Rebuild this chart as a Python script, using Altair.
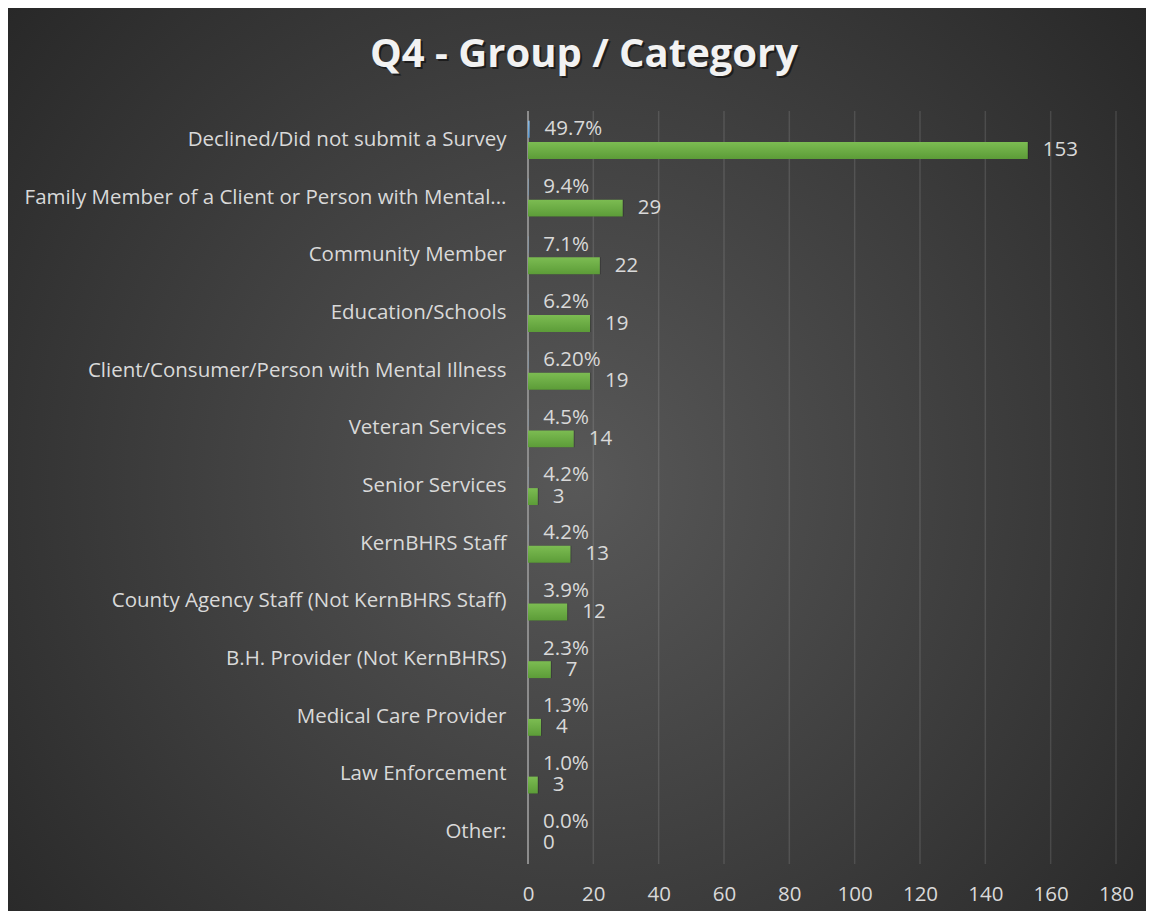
import altair as alt
import pandas as pd

title_text = "Q4 - Group / Category"
categories = [
    "Declined/Did not submit a Survey",
    "Family Member of a Client or Person with Mental...",
    "Community Member",
    "Education/Schools",
    "Client/Consumer/Person with Mental Illness",
    "Veteran Services",
    "Senior Services",
    "KernBHRS Staff",
    "County Agency Staff (Not KernBHRS Staff)",
    "B.H. Provider (Not KernBHRS)",
    "Medical Care Provider",
    "Law Enforcement",
    "Other:",
]
counts = [153, 29, 22, 19, 19, 14, 3, 13, 12, 7, 4, 3, 0]
percents = [0.497, 0.094, 0.071, 0.062, 0.062, 0.045, 0.042, 0.042, 0.039, 0.023, 0.013, 0.010, 0.0]
percent_labels = ["49.7%", "9.4%", "7.1%", "6.2%", "6.20%", "4.5%", "4.2%", "4.2%",
                  "3.9%", "2.3%", "1.3%", "1.0%", "0.0%"]
count_labels = [str(c) for c in counts]
x_ticks = [0, 20, 40, 60, 80, 100, 120, 140, 160, 180]
series_order = ["pct", "count"]

rows = []
for cat, p, pl, c, cl in zip(categories, percents, percent_labels, counts, count_labels):
    rows.append({"cat": cat, "series": "pct", "value": p, "label": pl})
    rows.append({"cat": cat, "series": "count", "value": c, "label": cl})
df = pd.DataFrame(rows)

W, H = 588, 750
PAD = {"left": 520, "top": 103, "right": 30, "bottom": 50}

FONT = "Open Sans"
TXT = "#d9d9d9"
FS = 20.5

bg_grad = {
    "gradient": "radial",
    "x1": 0.5, "y1": 0.52, "r1": 0,
    "x2": 0.5, "y2": 0.52, "r2": 0.72,
    "stops": [
        {"offset": 0, "color": "#585858"},
        {"offset": 1, "color": "#232323"},
    ],
}
green_grad = {
    "gradient": "linear", "x1": 0, "y1": 0, "x2": 0, "y2": 1,
    "stops": [{"offset": 0, "color": "#7cbc52"}, {"offset": 1, "color": "#5c9c38"}],
}
blue_grad = {
    "gradient": "linear", "x1": 0, "y1": 0, "x2": 0, "y2": 1,
    "stops": [{"offset": 0, "color": "#8dbde6"}, {"offset": 1, "color": "#5b9bd5"}],
}

xscale = alt.Scale(domain=[0, 180], nice=False)
yscale = alt.Scale(domain=categories, paddingInner=0.34, paddingOuter=0.17)
yoff = alt.YOffset("series:N", sort=series_order,
                   scale=alt.Scale(domain=series_order, paddingInner=0.2, paddingOuter=0))

one = alt.Data(values=[{"t": title_text}])

bg = alt.Chart(one).mark_rect(fill=bg_grad).encode(
    x=alt.value(-PAD["left"]), x2=alt.value(W + PAD["right"]),
    y=alt.value(-PAD["top"]), y2=alt.value(H + PAD["bottom"]),
)

title_x = 576 - PAD["left"]
title_y = 59 - PAD["top"]
title_shadow = alt.Chart(one).mark_text(
    font=FONT, fontSize=40, fontWeight="bold", color="#000000", opacity=0.5,
    align="center", baseline="alphabetic", dx=2, dy=2
).encode(x=alt.value(title_x), y=alt.value(title_y), text="t:N")
title = alt.Chart(one).mark_text(
    font=FONT, fontSize=40, fontWeight="bold", color="#f2f2f2",
    align="center", baseline="alphabetic"
).encode(x=alt.value(title_x), y=alt.value(title_y), text="t:N")

grid = alt.Chart(pd.DataFrame({"t": x_ticks[1:]})).mark_rule(
    color="#d9d9d9", opacity=0.14, strokeWidth=1.5
).encode(
    x=alt.X("t:Q", scale=xscale),
    y=alt.value(0), y2=alt.value(H + 3),
)
zero_line = alt.Chart(pd.DataFrame({"t": x_ticks[:1]})).mark_rule(
    color="#8c8c8c", strokeWidth=2
).encode(
    x=alt.X("t:Q", scale=xscale),
    y=alt.value(0), y2=alt.value(H + 3),
)

base = alt.Chart(df)

y_enc = alt.Y("cat:N", sort=categories, scale=yscale,
              axis=alt.Axis(title=None, labelFont=FONT, labelFontSize=FS, labelColor=TXT,
                            labelPadding=22, labelLimit=700, ticks=False, domain=False,
                            grid=False, zindex=1))
x_enc = alt.X("value:Q", scale=xscale,
              axis=alt.Axis(title=None, values=x_ticks, labelFont=FONT, labelFontSize=FS,
                            labelColor=TXT, labelPadding=23, ticks=False, domain=False,
                            grid=False, labelFlush=False, zindex=1))

cnt_data = base.transform_filter(alt.datum.series == "count")
shadow = cnt_data.mark_bar(fill="#000000", opacity=0.22, xOffset=1, yOffset=3).encode(
    x=alt.X("value:Q", scale=xscale), y=alt.Y("cat:N", sort=categories, scale=yscale),
    yOffset=yoff)
pct_bar = base.transform_filter(alt.datum.series == "pct").mark_bar(fill=blue_grad).encode(
    x=x_enc, y=y_enc, yOffset=yoff)
cnt_bar = cnt_data.mark_bar(fill=green_grad).encode(
    x=x_enc, y=y_enc, yOffset=yoff)

labels = base.mark_text(align="left", baseline="middle", dx=15, font=FONT, fontSize=FS,
                        color=TXT).encode(
    x=alt.X("value:Q", scale=xscale), y=alt.Y("cat:N", sort=categories, scale=yscale),
    yOffset=yoff, text="label:N")

chart = alt.layer(bg, grid, zero_line, shadow, pct_bar, cnt_bar, labels,
                  title_shadow, title).properties(
    width=W, height=H,
    autosize=alt.AutoSizeParams(type="none"),
    padding=PAD,
).configure(background="#262626").configure_view(stroke=None)

chart.save("out.html", embed_options={"renderer": "svg", "actions": False})
